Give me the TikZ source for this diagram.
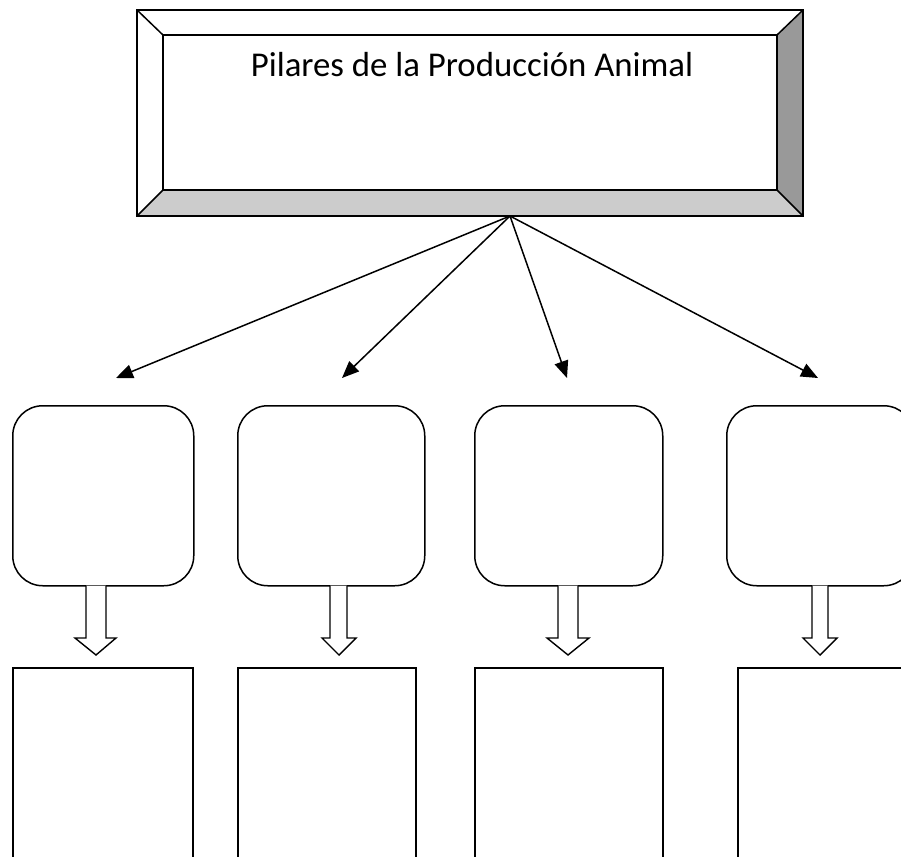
\documentclass[tikz,border=0pt]{standalone}
\usepackage{fontspec}
\setmainfont{Carlito}
\usetikzlibrary{arrows.meta,calc}
\definecolor{bevdark}{HTML}{999999}
\definecolor{bevlight}{HTML}{CCCCCC}
\begin{document}
\begin{tikzpicture}[x=1pt,y=-1pt,line join=miter,
  outl/.style={draw=black,line width=1.5pt},
  conn/.style={line width=1.5pt,-{Triangle[length=17pt,width=14pt]}},
  rbox/.style={draw=black,line width=1.5pt,rounded corners=30pt,inner sep=0pt,anchor=north west,fill=white},
  sbox/.style={draw=black,line width=1.5pt,inner sep=0pt,anchor=north west,fill=white},
  barrow/.style={draw=black,line width=1.4pt,fill=white},
  ttlfont/.style={font=\fontsize{34.8}{40}\selectfont}]
\useasboundingbox (0,0) rectangle (901,856);
% bevelled title box
\coordinate (o1) at (137,10);
\coordinate (o2) at (803,10);
\coordinate (o3) at (803,216);
\coordinate (o4) at (137,216);
\coordinate (i1) at (163,35);
\coordinate (i2) at (777,35);
\coordinate (i3) at (777,190);
\coordinate (i4) at (163,190);
\fill[white] (o1) rectangle (o3);
\fill[bevdark] (o2) -- (o3) -- (i3) -- (i2) -- cycle;
\fill[bevlight] (o4) -- (o3) -- (i3) -- (i4) -- cycle;
\node[inner sep=0pt,minimum width=614pt,minimum height=155pt,anchor=north west] (main) at (i1) {};
\draw[outl] (o1) rectangle (o3);
\draw[outl] (i1) rectangle (i3);
\draw[outl] (o1) -- (i1) (o2) -- (i2) (o3) -- (i3) (o4) -- (i4);
\node[ttlfont,anchor=base,inner sep=0pt] (ttl) at (472,77) {Pilares de la Producción Animal};
% apex and arrow tips
\coordinate (apex) at (510,216);
\coordinate (t1) at (116,378);
\coordinate (t2) at (342,378);
\coordinate (t3) at (567,378);
\coordinate (t4) at (818,378);
\foreach \i in {1,2,3,4} \draw[conn] (apex) -- (t\i);
% rounded boxes
\node[rbox,minimum width=181pt,minimum height=180pt] (r1) at (12,405) {};
\node[rbox,minimum width=187pt,minimum height=180pt] (r2) at (237,405) {};
\node[rbox,minimum width=188pt,minimum height=180pt] (r3) at (474,405) {};
\node[rbox,minimum width=187pt,minimum height=180pt] (r4) at (726,405) {};
% square boxes
\node[sbox,minimum width=180pt,minimum height=190pt] (s1) at (12,667) {};
\node[sbox,minimum width=178pt,minimum height=190pt] (s2) at (237,667) {};
\node[sbox,minimum width=188pt,minimum height=190pt] (s3) at (474,667) {};
\node[sbox,minimum width=180pt,minimum height=190pt] (s4) at (737,667) {};
% block arrows: shaft left, shaft right, wing left, wing right, tip x
\foreach \xl/\xr/\wl/\wr/\tx [count=\k] in {86/106/75/116/96, 330/347/322/356/339, 558/578/547/589/568, 812/828/803/837/820}{
  \draw[barrow] (\xl,585.7) -- (\xl,638) -- (\wl,638) -- (\tx,655) -- (\wr,638) -- (\xr,638) -- (\xr,585.7);
}
\end{tikzpicture}
\end{document}
